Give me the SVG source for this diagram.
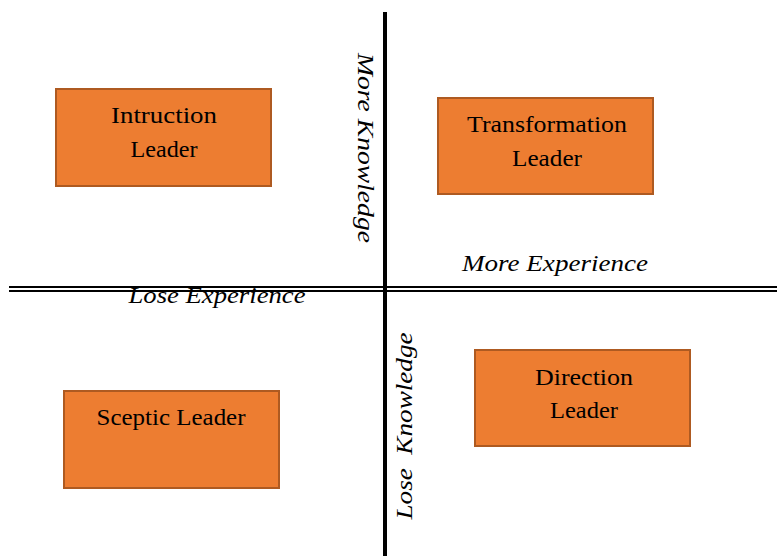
<svg xmlns="http://www.w3.org/2000/svg" width="777" height="556" viewBox="0 0 777 556">
<style>
.box{fill:#ED7D31;stroke:#AE5A21;stroke-width:2}
.t{font-family:"Liberation Serif","DejaVu Serif",serif;font-size:23.5px;fill:#000;text-anchor:middle}
.i{font-family:"Liberation Serif","DejaVu Serif",serif;font-style:italic;font-size:24px;fill:#000;text-anchor:middle}
.ln{stroke:#000;fill:none}
</style>
<rect width="777" height="556" fill="#fff"/>
<g id="connectors">
<line class="ln" x1="385" y1="12" x2="385" y2="556" stroke-width="4"/>
<line class="ln" x1="9" y1="287" x2="777" y2="287" stroke-width="2"/>
<line class="ln" x1="9" y1="291" x2="777" y2="291" stroke-width="2"/>
</g>
<g id="instruction">
<rect class="box" x="56" y="89" width="215" height="97"/>
<text class="t" x="164" y="123" textLength="106" lengthAdjust="spacingAndGlyphs">Intruction</text>
<text class="t" x="164" y="157" textLength="67" lengthAdjust="spacingAndGlyphs">Leader</text>
</g>
<g id="transformation">
<rect class="box" x="438" y="98" width="215" height="96"/>
<text class="t" x="547" y="132" textLength="160" lengthAdjust="spacingAndGlyphs">Transformation</text>
<text class="t" x="547" y="166" textLength="70" lengthAdjust="spacingAndGlyphs">Leader</text>
</g>
<g id="sceptic">
<rect class="box" x="64" y="391" width="215" height="97"/>
<text class="t" x="171" y="425" textLength="149" lengthAdjust="spacingAndGlyphs">Sceptic Leader</text>
</g>
<g id="direction">
<rect class="box" x="475" y="350" width="215" height="96"/>
<text class="t" x="584" y="385" textLength="98" lengthAdjust="spacingAndGlyphs">Direction</text>
<text class="t" x="584" y="418" textLength="68" lengthAdjust="spacingAndGlyphs">Leader</text>
</g>
<g id="labels">
<text class="i" transform="translate(358,148) rotate(90)" x="0" y="0" textLength="190" lengthAdjust="spacingAndGlyphs">More Knowledge</text>
<text class="i" transform="translate(412,426) rotate(-90)" x="0" y="0" textLength="187" lengthAdjust="spacingAndGlyphs" xml:space="preserve">Lose  Knowledge</text>
<text class="i" x="555" y="271" textLength="186" lengthAdjust="spacingAndGlyphs">More Experience</text>
<text class="i" x="217" y="303" style="font-size:23px" textLength="177" lengthAdjust="spacingAndGlyphs">Lose Experience</text>
</g>
</svg>
